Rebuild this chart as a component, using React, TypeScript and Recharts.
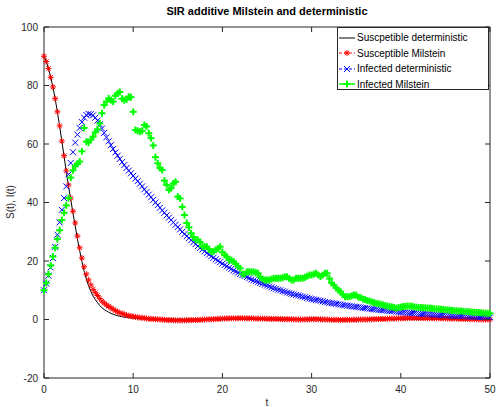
import React from "react";
import { LineChart, Line, XAxis, YAxis, ReferenceLine, Legend } from "recharts";

// time grid, step 0.25 (two time units per row)
const T = [
  0, 0.25, 0.5, 0.75, 1, 1.25, 1.5, 1.75,
  2, 2.25, 2.5, 2.75, 3, 3.25, 3.5, 3.75,
  4, 4.25, 4.5, 4.75, 5, 5.25, 5.5, 5.75,
  6, 6.25, 6.5, 6.75, 7, 7.25, 7.5, 7.75,
  8, 8.25, 8.5, 8.75, 9, 9.25, 9.5, 9.75,
  10, 10.25, 10.5, 10.75, 11, 11.25, 11.5, 11.75,
  12, 12.25, 12.5, 12.75, 13, 13.25, 13.5, 13.75,
  14, 14.25, 14.5, 14.75, 15, 15.25, 15.5, 15.75,
  16, 16.25, 16.5, 16.75, 17, 17.25, 17.5, 17.75,
  18, 18.25, 18.5, 18.75, 19, 19.25, 19.5, 19.75,
  20, 20.25, 20.5, 20.75, 21, 21.25, 21.5, 21.75,
  22, 22.25, 22.5, 22.75, 23, 23.25, 23.5, 23.75,
  24, 24.25, 24.5, 24.75, 25, 25.25, 25.5, 25.75,
  26, 26.25, 26.5, 26.75, 27, 27.25, 27.5, 27.75,
  28, 28.25, 28.5, 28.75, 29, 29.25, 29.5, 29.75,
  30, 30.25, 30.5, 30.75, 31, 31.25, 31.5, 31.75,
  32, 32.25, 32.5, 32.75, 33, 33.25, 33.5, 33.75,
  34, 34.25, 34.5, 34.75, 35, 35.25, 35.5, 35.75,
  36, 36.25, 36.5, 36.75, 37, 37.25, 37.5, 37.75,
  38, 38.25, 38.5, 38.75, 39, 39.25, 39.5, 39.75,
  40, 40.25, 40.5, 40.75, 41, 41.25, 41.5, 41.75,
  42, 42.25, 42.5, 42.75, 43, 43.25, 43.5, 43.75,
  44, 44.25, 44.5, 44.75, 45, 45.25, 45.5, 45.75,
  46, 46.25, 46.5, 46.75, 47, 47.25, 47.5, 47.75,
  48, 48.25, 48.5, 48.75, 49, 49.25, 49.5, 49.75,
  50,
];

const S_DET = [
  90, 88.2, 85.8, 82.8, 79.5, 75.5, 71, 66.2,
  61, 55.8, 50.5, 45.6, 41, 36.3, 32, 27.5,
  23.5, 19.8, 16.5, 13.8, 11.5, 9.6, 8, 6.8,
  5.7, 4.8, 4, 3.4, 2.9, 2.5, 2.1, 1.8,
  1.5, 1.3, 1.1, 0.95, 0.8, 0.7, 0.6, 0.52,
  0.45, 0.4, 0.35, 0.31, 0.27, 0.24, 0.21, 0.19,
  0.17, 0.15, 0.14, 0.13, 0.12, 0.11, 0.1, 0.1,
  0.09, 0.08, 0.08, 0.07, 0.07, 0.06, 0.06, 0.06,
  0.05, 0.05, 0.05, 0.05, 0.05, 0.05, 0.05, 0.05,
  0.05, 0.05, 0.05, 0.05, 0.05, 0.05, 0.05, 0.05,
  0.05, 0.05, 0.05, 0.05, 0.05, 0.05, 0.05, 0.05,
  0.05, 0.05, 0.05, 0.05, 0.05, 0.05, 0.05, 0.05,
  0.05, 0.05, 0.05, 0.05, 0.04, 0.04, 0.04, 0.04,
  0.04, 0.04, 0.04, 0.04, 0.04, 0.04, 0.04, 0.04,
  0.04, 0.04, 0.04, 0.04, 0.04, 0.04, 0.04, 0.04,
  0.04, 0.04, 0.04, 0.04, 0.04, 0.04, 0.04, 0.04,
  0.04, 0.04, 0.04, 0.04, 0.04, 0.04, 0.04, 0.04,
  0.04, 0.04, 0.04, 0.04, 0.04, 0.04, 0.04, 0.04,
  0.04, 0.04, 0.04, 0.04, 0.04, 0.04, 0.04, 0.04,
  0.04, 0.04, 0.04, 0.04, 0.04, 0.04, 0.04, 0.04,
  0.04, 0.04, 0.04, 0.04, 0.04, 0.04, 0.04, 0.04,
  0.04, 0.04, 0.04, 0.04, 0.04, 0.04, 0.04, 0.04,
  0.04, 0.04, 0.04, 0.04, 0.04, 0.04, 0.04, 0.04,
  0.04, 0.04, 0.04, 0.04, 0.04, 0.04, 0.04, 0.04,
  0.04, 0.04, 0.04, 0.04, 0.04, 0.04, 0.04, 0.04,
  0.04,
];

const S_MIL = [
  90, 88.2, 85.8, 82.8, 79.5, 75.5, 71, 66.2,
  61, 56, 50.8, 46, 41.5, 37, 33, 28.5,
  24.5, 21, 18, 15.5, 13.5, 11.8, 10.3, 9.2,
  8.2, 7.2, 6.3, 5.6, 5, 4.5, 4, 3.5,
  3, 2.6, 2.3, 2, 1.8, 1.5, 1.3, 1.15,
  1, 0.85, 0.75, 0.65, 0.55, 0.45, 0.35, 0.28,
  0.2, 0.15, 0.1, 0.05, 0, -0.05, -0.1, -0.15,
  -0.2, -0.22, -0.25, -0.28, -0.3, -0.3, -0.3, -0.28,
  -0.25, -0.22, -0.2, -0.2, -0.2, -0.15, -0.1, -0.05,
  0, 0.02, 0.05, 0.08, 0.1, 0.15, 0.2, 0.25,
  0.3, 0.32, 0.35, 0.38, 0.4, 0.4, 0.4, 0.42,
  0.45, 0.42, 0.4, 0.4, 0.4, 0.38, 0.35, 0.32,
  0.3, 0.3, 0.3, 0.28, 0.25, 0.22, 0.2, 0.2,
  0.2, 0.18, 0.15, 0.12, 0.1, 0.1, 0.1, 0.08,
  0.05, 0.02, 0, 0, 0, 0.02, 0.05, 0.08,
  0.1, 0.1, 0.1, 0.08, 0.05, 0.02, 0, -0.02,
  -0.05, -0.08, -0.1, -0.1, -0.1, -0.12, -0.15, -0.12,
  -0.1, -0.1, -0.1, -0.08, -0.05, -0.02, 0, 0,
  0, 0.02, 0.05, 0.08, 0.1, 0.12, 0.15, 0.18,
  0.2, 0.22, 0.25, 0.28, 0.3, 0.32, 0.35, 0.38,
  0.4, 0.42, 0.45, 0.48, 0.5, 0.5, 0.5, 0.5,
  0.5, 0.5, 0.5, 0.48, 0.45, 0.45, 0.45, 0.42,
  0.4, 0.4, 0.4, 0.38, 0.35, 0.32, 0.3, 0.3,
  0.3, 0.28, 0.25, 0.22, 0.2, 0.18, 0.15, 0.12,
  0.1, 0.08, 0.05, 0.05, 0.05, 0.02, 0, 0,
  0,
];

const I_DET = [
  10, 12.3, 15, 17.8, 21, 24.8, 29, 33.2,
  37.5, 41.5, 45.5, 49.6, 53.5, 57.2, 60.5, 63.2,
  65.5, 67.5, 69, 69.9, 70.3, 70.2, 69.8, 69,
  68, 66.7, 65.3, 63.8, 62.3, 60.9, 59.6, 58.3,
  57.1, 56, 54.9, 53.8, 52.8, 51.8, 50.9, 50,
  49.1, 48.2, 47.3, 46.4, 45.5, 44.5, 43.6, 42.7,
  41.8, 40.9, 40, 39.1, 38.2, 37.3, 36.5, 35.6,
  34.8, 34, 33.2, 32.4, 31.6, 30.8, 30, 29.2,
  28.5, 27.8, 27.1, 26.4, 25.8, 25.1, 24.5, 23.9,
  23.3, 22.7, 22.2, 21.6, 21.1, 20.6, 20.1, 19.6,
  19.1, 18.6, 18.2, 17.7, 17.3, 16.8, 16.4, 16,
  15.6, 15.2, 14.9, 14.5, 14.1, 13.7, 13.4, 13.1,
  12.8, 12.5, 12.2, 11.9, 11.6, 11.3, 11, 10.7,
  10.5, 10.2, 10, 9.7, 9.5, 9.2, 9, 8.8,
  8.6, 8.4, 8.2, 8, 7.8, 7.6, 7.4, 7.2,
  7, 6.85, 6.7, 6.55, 6.4, 6.2, 6, 5.85,
  5.7, 5.6, 5.5, 5.35, 5.2, 5.1, 5, 4.85,
  4.7, 4.6, 4.5, 4.4, 4.3, 4.2, 4.1, 4,
  3.9, 3.8, 3.7, 3.6, 3.5, 3.4, 3.3, 3.25,
  3.2, 3.1, 3, 2.95, 2.9, 2.8, 2.7, 2.6,
  2.5, 2.45, 2.4, 2.32, 2.25, 2.2, 2.15, 2.08,
  2, 1.95, 1.9, 1.85, 1.8, 1.75, 1.7, 1.65,
  1.6, 1.55, 1.5, 1.45, 1.4, 1.38, 1.35, 1.3,
  1.25, 1.22, 1.2, 1.15, 1.1, 1.08, 1.05, 1.02,
  1, 0.95, 0.9, 0.88, 0.85, 0.82, 0.8, 0.78,
  0.75,
];

const I_MIL = [
  10, 12.5, 15.5, 18.5, 21.5, 24.5, 27.5, 30.5,
  34, 36.5, 39, 41.5, 48.5, 51, 52.5, 53.2,
  54, 57.5, 65.5, 60.8, 60.5, 61.5, 62.5, 64,
  65, 67, 70.5, 73.3, 74.5, 75.6, 75, 74.5,
  76.5, 77.3, 77.8, 75.5, 75, 75.2, 76.2, 76,
  71, 64.8, 64.5, 64.2, 64.5, 66.5, 66, 63.7,
  62, 59.5, 55.5, 53.4, 51.8, 51.1, 47.5, 46,
  44.3, 44.9, 46.5, 47.1, 42, 41.4, 38.5, 35.7,
  33, 31.5, 29.5, 28.2, 27.2, 27.2, 26.5, 24.9,
  24.9, 24.9, 24, 23.2, 23.2, 23.8, 24.3, 24.9,
  23, 22, 21.5, 20.3, 20.3, 19.8, 19, 18.2,
  17.5, 15.5, 15.5, 16.3, 16.3, 16.3, 16.3, 16,
  15.8, 14.5, 13.8, 13.5, 13.5, 13.5, 13.8, 14.1,
  14.1, 14.1, 14.1, 14.3, 14.6, 14.6, 14, 13.5,
  13.5, 14.1, 14.1, 14.1, 14.1, 14.4, 14.8, 15.2,
  15.2, 15.5, 15.8, 15.2, 14.7, 15.2, 15.8, 15.8,
  14, 12.5, 11.7, 10.8, 10, 9.5, 8.5, 7.8,
  7.8, 7.8, 8.1, 8.4, 8.3, 7.6, 7.5, 7,
  6.8, 6.5, 6.3, 6, 5.8, 5.5, 5.4, 5.2,
  5, 4.8, 4.6, 4.4, 4.3, 4.1, 3.9, 4.1,
  4.2, 4.4, 4.5, 4.6, 4.6, 4.5, 4.3, 4.2,
  4.1, 4.1, 4, 4, 3.9, 3.9, 3.8, 3.7,
  3.6, 3.6, 3.5, 3.4, 3.3, 3.3, 3.2, 3.1,
  3, 3, 2.9, 2.9, 2.8, 2.7, 2.7, 2.6,
  2.5, 2.5, 2.4, 2.4, 2.3, 2.2, 2.2, 2.1,
  2.1,
];

const X_TICKS = [0, 10, 20, 30, 40, 50];
const Y_TICKS = [-20, 0, 20, 40, 60, 80, 100];

const SERIES_NAMES = [
  "Suscpetible deterministic",
  "Susceptible Milstein",
  "Infected deterministic",
  "Infected Milstein",
];

const data = T.map((t, i) => ({
  t,
  sDet: S_DET[i],
  sMil: S_MIL[i],
  iDet: I_DET[i],
  iMil: I_MIL[i],
}));

const FONT = '"Liberation Sans", Arial, Helvetica, sans-serif';
const AXIS = "#262626";
const PLOT_LEFT = 44;
const PLOT_RIGHT = 490;
const PLOT_TOP = 27;
const PLOT_BOTTOM = 378;

function StarMark({ cx, cy, r = 3, color }: any) {
  const d = r * 0.72;
  return (
    <g stroke={color} strokeWidth={1} fill="none">
      <line x1={cx - r} y1={cy} x2={cx + r} y2={cy} />
      <line x1={cx} y1={cy - r} x2={cx} y2={cy + r} />
      <line x1={cx - d} y1={cy - d} x2={cx + d} y2={cy + d} />
      <line x1={cx - d} y1={cy + d} x2={cx + d} y2={cy - d} />
    </g>
  );
}

function CrossMark({ cx, cy, r = 3, color }: any) {
  return (
    <g stroke={color} strokeWidth={1} fill="none">
      <line x1={cx - r} y1={cy - r} x2={cx + r} y2={cy + r} />
      <line x1={cx - r} y1={cy + r} x2={cx + r} y2={cy - r} />
    </g>
  );
}

function PlusMark({ cx, cy, r = 3.5, color }: any) {
  return (
    <g stroke={color} strokeWidth={2} fill="none">
      <line x1={cx - r} y1={cy} x2={cx + r} y2={cy} />
      <line x1={cx} y1={cy - r} x2={cx} y2={cy + r} />
    </g>
  );
}

const starDot = (p: any) =>
  p.cx == null ? <g key={`s${p.index}`} /> : <StarMark key={`s${p.index}`} cx={p.cx} cy={p.cy} color="#ff0000" />;
const crossDot = (p: any) =>
  p.cx == null ? <g key={`x${p.index}`} /> : <CrossMark key={`x${p.index}`} cx={p.cx} cy={p.cy} color="#0000ff" />;
const plusDot = (p: any) =>
  p.cx == null ? <g key={`p${p.index}`} /> : <PlusMark key={`p${p.index}`} cx={p.cx} cy={p.cy} color="#00ff00" />;

function XTick({ x, payload }: any) {
  return (
    <g>
      <line x1={x} x2={x} y1={PLOT_BOTTOM} y2={PLOT_BOTTOM - 5} stroke={AXIS} />
      <line x1={x} x2={x} y1={PLOT_TOP} y2={PLOT_TOP + 5} stroke={AXIS} />
      <text x={x} y={393} textAnchor="middle" fontSize={10} fill={AXIS} fontFamily={FONT}>
        {payload.value}
      </text>
    </g>
  );
}

function YTick({ y, payload }: any) {
  return (
    <g>
      <line x1={PLOT_LEFT} x2={PLOT_LEFT + 5} y1={y} y2={y} stroke={AXIS} />
      <line x1={PLOT_RIGHT} x2={PLOT_RIGHT - 5} y1={y} y2={y} stroke={AXIS} />
      <text x={38} y={y + 3.5} textAnchor="end" fontSize={10} fill={AXIS} fontFamily={FONT}>
        {payload.value}
      </text>
    </g>
  );
}

function LegendBox() {
  const samples = [
    <line key="a" x1={1} x2={17} y1={7} y2={7} stroke="#000" />,
    <g key="b">
      <line x1={1} x2={17} y1={7} y2={7} stroke="#ff0000" strokeDasharray="3 2" />
      <StarMark cx={9} cy={7} color="#ff0000" />
    </g>,
    <g key="c">
      <line x1={1} x2={17} y1={7} y2={7} stroke="#0000ff" strokeDasharray="3 2" />
      <CrossMark cx={9} cy={7} color="#0000ff" />
    </g>,
    <g key="d">
      <line x1={1} x2={17} y1={7} y2={7} stroke="#00ff00" strokeWidth={1.5} />
      <PlusMark cx={9} cy={7} color="#00ff00" />
    </g>,
  ];
  return (
    <div
      style={{
        border: `1px solid ${AXIS}`,
        background: "#fff",
        boxSizing: "border-box",
        width: 152,
        height: 63,
        padding: "2px 0 0 0",
        fontFamily: FONT,
        fontSize: 10,
        color: "#000",
      }}
    >
      {SERIES_NAMES.map((name, i) => (
        <div key={name} style={{ display: "flex", alignItems: "center", height: 15.5, whiteSpace: "nowrap" }}>
          <svg width={19} height={14} style={{ flex: "none" }}>
            {samples[i]}
          </svg>
          <span>{name}</span>
        </div>
      ))}
    </div>
  );
}

export default function App() {
  return (
    <div style={{ position: "absolute", left: 0, top: 0, width: 496, height: 407, background: "#fff" }}>
      <LineChart width={496} height={407} data={data} margin={{ top: 27, right: 6, bottom: 4, left: 4 }}>
        <XAxis
          type="number"
          dataKey="t"
          domain={[0, 50]}
          ticks={X_TICKS}
          height={25}
          axisLine={{ stroke: AXIS }}
          tickLine={false}
          tick={<XTick />}
          interval={0}
        />
        <YAxis
          type="number"
          domain={[-20, 100]}
          ticks={Y_TICKS}
          width={40}
          axisLine={{ stroke: AXIS }}
          tickLine={false}
          tick={<YTick />}
          interval={0}
        />
        <ReferenceLine y={100} stroke={AXIS} />
        <ReferenceLine x={50} stroke={AXIS} />
        <Line type="linear" dataKey="sDet" name={SERIES_NAMES[0]} stroke="#000" strokeWidth={1} dot={false} isAnimationActive={false} />
        <Line type="linear" dataKey="sMil" name={SERIES_NAMES[1]} stroke="none" dot={starDot} isAnimationActive={false} />
        <Line type="linear" dataKey="iDet" name={SERIES_NAMES[2]} stroke="none" dot={crossDot} isAnimationActive={false} />
        <Line type="linear" dataKey="iMil" name={SERIES_NAMES[3]} stroke="none" dot={plusDot} isAnimationActive={false} />
        <Legend
          layout="vertical"
          align="center"
          verticalAlign="middle"
          content={() => <LegendBox />}
          wrapperStyle={{ left: 337, top: 27, width: 152, height: 63 }}
        />
        <text x={267} y={15} textAnchor="middle" fontSize={11} fontWeight="bold" fill="#000" fontFamily={FONT}>
          SIR additive Milstein and deterministic
        </text>
        <text transform="translate(14,202) rotate(-90)" textAnchor="middle" fontSize={10} fill={AXIS} fontFamily={FONT}>
          S(t), I(t)
        </text>
        <text x={267} y={406} textAnchor="middle" fontSize={10} fill={AXIS} fontFamily={FONT}>
          t
        </text>
      </LineChart>
    </div>
  );
}
